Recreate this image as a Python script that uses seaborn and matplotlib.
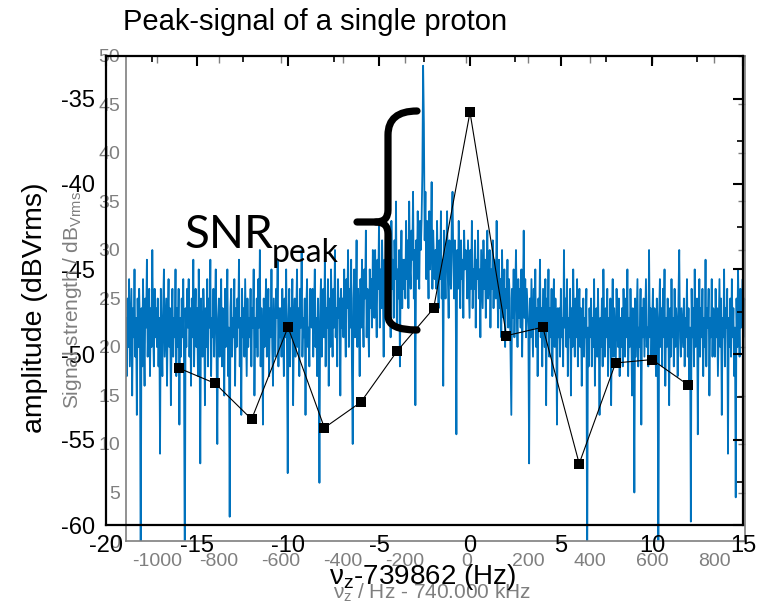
import numpy as np
import pandas as pd
import matplotlib
matplotlib.use("Agg")
import matplotlib.pyplot as plt
import seaborn as sns
from matplotlib.path import Path
from matplotlib.patches import PathPatch
from matplotlib.ticker import MultipleLocator

# ---------------- data ----------------
# Inner (gray) spectrum: frequency offset from 740.000 kHz (Hz) and signal strength (dBVrms)
spec_start_hz = -1100
spec_step_hz = 2.5
spec_signal = [
    23, 17, 25, 20, 27, 18, 22, 26, 15, 24, 21, 28, 19, 23, 13, 25, 20, 26, 22, -5, 24, 18, 27, 21, 16, 25, 22, 29, 19, 23, 26, 17, 24, 20, 30, 22, 18, 26, 21, 24,
    20, 25, 18, 23, 9, 26, 21, 17, 24, 28, 19, 22, 25, 16, 23, 27, 20, 24, 14, 22, 26, 19, 23, 21, 28, 17, 24, 20, 26, 12, 23, 19, 25, 21, 27, 18, -5, 24, 20, 26,
    22, 27, 19, 24, 16, 25, 21, 29, 18, 23, 26, 20, 24, 17, 28, 22, 8, 25, 21, 19, 26, 23, 14, 24, 20, 27, 18, 25, 22, 29, 17, 23, 21, 26, 19, 24, 28, 20, 10, 23,
    25, 19, 22, 27, 18, 24, 21, 15, 26, 20, 23, 28, 17, 22, 2.5, 24, 26, 19, 23, 21, 27, 16, 24, 20, 25, 22, 29, 18, 23, 13, 26, 21, 24, 19, 27, 22, 17, 25, 20, 23,
    21, 26, 18, 24, 22, 28, 15, 23, 20, 25, 19, 27, 22, 30, 18, 24, 21, 12, 25, 20, 23, 27, 19, 22, 26, 17, 24, 21, 28, 20, 16, 25, 22, 19, 26, 23, 29, 18, 24, 21,
    24, 19, 26, 22, 17, 25, 21, 28, 20, 7, 23, 26, 18, 24, 21, 27, 14, 22, 25, 19, 23, 28, 20, 24, 17, 26, 22, 30, 19, 23, 21, 25, 13, 24, 27, 20, 22, 18, 26, 23,
    22, 26, 19, 24, 28, 20, 23, 17, 25, 21, 6, 24, 27, 19, 23, 26, 21, 29, 18, 24, 22, 27, 16, 25, 20, 28, 23, 19, 26, 22, 30, 21, 24, 18, 27, 23, 25, 15, 26, 22,
    25, 21, 28, 23, 19, 27, 24, 30, 20, 26, 22, 29, 18, 10, 25, 28, 21, 24, 31, 20, 26, 23, 17, 27, 22, 29, 24, 20, 28, 25, 32, 21, 26, 23, 19, 28, 24, 27, 22, 30,
    27, 23, 30, 25, 21, 29, 26, 33, 22, 28, 24, 31, 26, 19, 29, 25, 32, 23, 27, 30, 24, 28, 21, 33, 26, 29, 23, 31, 27, 35, 22, 28, 25, 30, 18, 27, 32, 24, 29, 26,
    29, 25, 33, 27, 31, 24, 35, 28, 26, 32, 29, 36, 25, 30, 14, 31, 27, 34, 29, 26, 33, 30, 33, 38, 49, 43, 31, 36, 27, 33, 30, 25, 34, 28, 31, 37, 26, 32, 29, 27,
    30, 26, 33, 28, 24, 31, 27, 34, 25, 29, 16, 32, 28, 25, 30, 34, 27, 23, 31, 28, 26, 33, 36, 29, 25, 31, 27, 11, 30, 26, 33, 28, 24, 31, 27, 29, 23, 32, 28, 30,
    29, 25, 31, 27, 23, 30, 26, 33, 24, 28, 26, 31, 22, 29, 27, 32, 25, 28, 21, 30, 27, 24, 31, 26, 29, 23, 28, 32, 25, 27, 30, 22, 28, 26, 31, 24, 29, 27, 25, 33,
    26, 22, 29, 24, 27, 21, 30, 25, 23, 28, 20, 26, 24, 29, 22, 27, 25, 19, 13, 26, 23, 28, 21, 25, 30, 24, 20, 27, 23, 26, 22, 28, 19, 25, 32, 23, 27, 21, 26, 24,
    22, 8, 25, 21, 27, 23, 19, 26, 22, 28, 20, 24, 17, 25, 22, 29, 21, 24, 18, 26, 23, 20, 27, 14, 25, 22, 28, 19, 24, 21, 26, 17, 23, 27, 20, 25, 22, 12, 24, 21,
    24, 19, 26, 21, 23, 18, 30, 22, 25, 20, 27, 17, 23, 21, 26, 15, 24, 20, 28, 22, 19, 25, 21, 27, 18, 23, 26, 20, 24, 16, 22, 25, 19, 23, 21, 26, -5, 22, 18, 24,
    21, 25, 18, 23, 20, 27, 16, 22, 24, 19, 26, 21, 13, 23, 20, 25, 18, 28, 22, 19, 24, 21, 26, 17, 23, 20, 25, 14, 22, 27, 19, 24, 21, 18, 26, 22, 20, 25, 17, 23,
    20, 24, 18, 26, 22, 19, 25, 21, 28, 17, 23, 20, 26, 22, 15, 24, 21, 5, 25, 19, 23, 27, 18, 22, 20, 26, 12, 24, 21, 25, 19, 23, 27, 20, 22, 18, 30, 21, 24, 19,
    22, 26, 19, 24, 21, 17, 25, 22, -5, 23, 27, 20, 24, 18, 26, 21, 28, 16, 23, 20, 25, 22, 14, 24, 19, 27, 21, 23, 18, 26, 20, 24, 22, 17, 25, 30, 21, 19, 24, 22,
    20, 25, 18, 23, 21, 27, 19, 24, 16, 22, 2, 26, 21, 24, 18, 28, 20, 23, 25, 11, 22, 27, 19, 24, 21, 26, 17, 23, 20, 29, 18, 24, 22, 26, 15, 23, 21, 27, 19, 24,
    23, 19, 26, 21, 24, 17, 22, 27, 20, 25, 13, 23, 21, 28, 18, 24, 22, 26, 9, 23, 20, 25, 19, 27, 21, 24, 17, 22, 4.5, 25, 20, 28, 23, 19, 26, 22, 24, 27, 21, 25,
]
spec_hz = spec_start_hz + spec_step_hz * np.arange(len(spec_signal))

# Outer (black) peak-signal points: nu_z - 739862 Hz and amplitude (dBVrms)
peak_offset_hz = [-16, -14, -12, -10, -8, -6, -4, -2, 0, 2, 4, 6, 8, 10, 12]
peak_amp_dbv = [-50.8, -51.7, -53.8, -48.4, -54.3, -52.8, -49.8, -47.3, -35.8,
                -48.9, -48.4, -56.4, -50.5, -50.3, -51.8]

main_xticks = [-20, -15, -10, -5, 0, 5, 10, 15]
main_yticks = [-60, -55, -50, -45, -40, -35]
inner_xticks = [-1000, -800, -600, -400, -200, 0, 200, 400, 600, 800]
inner_yticks = [0, 5, 10, 15, 20, 25, 30, 35, 40, 45, 50]

spec_df = pd.DataFrame({"hz": spec_hz, "signal": spec_signal})
peak_df = pd.DataFrame({"offset": peak_offset_hz, "amp": peak_amp_dbv})

# ---------------- style ----------------
sns.set_theme(style="white")
plt.rcParams["font.family"] = ["Liberation Sans", "DejaVu Sans"]
plt.rcParams["axes.unicode_minus"] = False
plt.rcParams["mathtext.fontset"] = "custom"
plt.rcParams["mathtext.rm"] = "Liberation Sans"
plt.rcParams["mathtext.it"] = "Liberation Sans:italic"
plt.rcParams["mathtext.bf"] = "Liberation Sans:bold"

W, H = 765, 606
fig = plt.figure(figsize=(W / 100, H / 100), dpi=100)


def fx(x):
    return x / W


def fy(y):
    return 1 - y / H


GRAY = "#7f7f7f"
BLUE = "#0072BD"

# inner gray chart
ax2 = fig.add_axes([fx(126), fy(541), fx(745) - fx(126), fy(56) - fy(541)])
sns.lineplot(data=spec_df, x="hz", y="signal", ax=ax2, color=BLUE,
             linewidth=1.3, estimator=None, sort=False)
ax2.set_xlim(-1100, 900)
ax2.set_ylim(0, 50)
ax2.set_xticks(inner_xticks)
ax2.set_yticks(inner_yticks)
ax2.set_xlabel("")
ax2.set_ylabel("")
ax2.tick_params(direction="in", length=5, width=1.0, colors=GRAY,
                labelsize=14, top=True, right=True)
ax2.tick_params(axis="x", pad=9)
ax2.tick_params(axis="y", pad=4)
for s in ax2.spines.values():
    s.set_color(GRAY)
    s.set_linewidth(1.2)

# outer black chart
ax = fig.add_axes([fx(106), fy(525), fx(743) - fx(106), fy(56) - fy(525)])
ax.patch.set_alpha(0)
sns.lineplot(data=peak_df, x="offset", y="amp", ax=ax, color="black",
             linewidth=0.8, marker="s", markersize=7.5, markeredgewidth=0,
             estimator=None)
ax.set_xlim(-20, 15)
ax.set_ylim(-60, -32.5)
ax.set_xticks(main_xticks)
ax.set_yticks(main_yticks)
ax.xaxis.set_minor_locator(MultipleLocator(2.5))
ax.yaxis.set_minor_locator(MultipleLocator(2.5))
ax.set_xlabel("")
ax.set_ylabel("")
ax.tick_params(which="major", direction="in", length=7, width=1.5, colors="black",
               labelsize=17, top=True, right=True)
ax.tick_params(which="minor", direction="in", length=4, width=1.2, colors="black",
               top=True, right=True)
ax.tick_params(axis="x", pad=7)
ax.tick_params(axis="y", pad=8)
for s in ax.spines.values():
    s.set_color("black")
    s.set_linewidth(1.6)

# texts
fig.text(fx(315), fy(22), "Peak-signal of a single proton", fontsize=21,
         ha="center", va="center", color="black")
fig.text(fx(35), fy(308), "amplitude (dBVrms)", fontsize=20.5, rotation=90,
         ha="center", va="center", color="black")
fig.text(fx(422), fy(577), "ν$_\\mathregular{z}$-739862 (Hz)", fontsize=20,
         ha="center", va="center", color="black")
fig.text(fx(72), fy(300), "Signal strength / dB$_\\mathregular{Vrms}$", fontsize=15,
         rotation=90, ha="center", va="center", color=GRAY, zorder=0)
fig.text(fx(432), fy(593), "ν$_\\mathregular{z}$ / Hz - 740.000 kHz", fontsize=15,
         ha="center", va="center", color=GRAY, zorder=0)

fig.text(fx(185), fy(248), "SNR", fontsize=33, family="Lato",
         ha="left", va="baseline", color="black")
fig.text(fx(272), fy(262), "peak", fontsize=23, family="Lato",
         ha="left", va="baseline", color="black")

# curly brace annotation
def P(x, y):
    return (fx(x), fy(y))

verts_top = [P(417, 111), P(388, 111), P(388, 135), P(388, 210), P(388, 222), P(376, 222), P(357, 222)]
codes_top = [Path.MOVETO, Path.CURVE3, Path.CURVE3, Path.LINETO, Path.CURVE3, Path.CURVE3, Path.LINETO]
verts_bot = [P(376, 222), P(388, 222), P(388, 234), P(388, 316), P(388, 330), P(417, 330)]
codes_bot = [Path.MOVETO, Path.CURVE3, Path.CURVE3, Path.LINETO, Path.CURVE3, Path.CURVE3]
for v, c in ((verts_top, codes_top), (verts_bot, codes_bot)):
    patch = PathPatch(Path(v, c), fill=False, lw=5.2, edgecolor="black",
                      capstyle="round", joinstyle="round", transform=fig.transFigure)
    fig.patches.append(patch)

fig.savefig("out.png", dpi=100)
